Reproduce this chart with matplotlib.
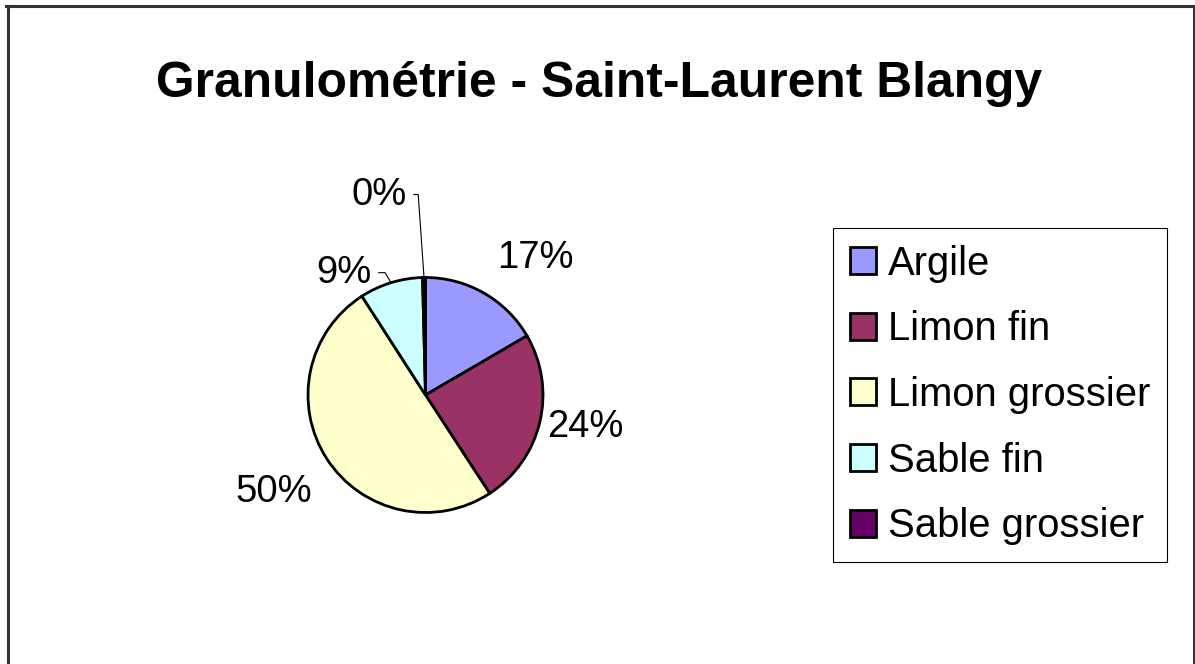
import numpy as np
import matplotlib
matplotlib.use("Agg")
import matplotlib.pyplot as plt
from matplotlib.patches import Patch
from matplotlib.lines import Line2D

# Particle-size fractions (percent)
categories = ["Argile", "Limon fin", "Limon grossier", "Sable fin", "Sable grossier"]
values = [16.6, 24.2, 50.1, 8.7, 0.4]
colors = ["#9999FF", "#993366", "#FFFFCC", "#CCFFFF", "#660066"]
title = "Granulométrie - Saint-Laurent Blangy"

W, H = 1195, 664
DPI = 100
plt.rcParams["font.family"] = ["Liberation Sans", "DejaVu Sans"]

fig = plt.figure(figsize=(W / DPI, H / DPI), dpi=DPI)
fig.patch.set_facecolor("white")

def fx(px):
    return px / W

def fy(py):
    return 1 - py / H

# Pie axes: square box around the pie
cx, cy, R = 425.5, 395.0, 117.5
ax = fig.add_axes([fx(cx - R), fy(cy + R), 2 * R / W, 2 * R / H])
wedges, _ = ax.pie(values, colors=colors, startangle=90, counterclock=False,
                   radius=1.0,
                   wedgeprops=dict(edgecolor="black", linewidth=2.0))
ax.set_xlim(-1, 1)
ax.set_ylim(-1, 1)
ax.set_aspect("equal")
ax.axis("off")

# Percentage labels, offset (pixels) from the rim point at each wedge's middle
offsets = [(51, 35), (45, -5), (-53, -33), (-47, 10), (-45, 83)]
leaders = [None, None, None, 120, 94]
for w, v, off, lead in zip(wedges, values, offsets, leaders):
    mid = np.deg2rad((w.theta1 + w.theta2) / 2)
    xy = (np.cos(mid), np.sin(mid))
    kw = {}
    if lead is not None:
        kw["arrowprops"] = dict(arrowstyle="-", color="black", lw=0.8,
                                shrinkA=3, shrinkB=0,
                                connectionstyle=f"angle,angleA=0,angleB={lead},rad=0")
    ax.annotate(f"{v:.0f}%", xy=xy, xytext=off, textcoords="offset pixels",
                ha="center", va="center", fontsize=27.5, color="black",
                annotation_clip=False, **kw)

# Title
fig.text(fx(599), fy(97), title, ha="center", va="baseline",
         fontsize=35.8, fontweight="bold", color="black")

# Legend
handles = [Patch(facecolor=c, edgecolor="black", linewidth=2.0) for c in colors]
leg = fig.legend(handles, categories, loc="upper left",
                 bbox_to_anchor=(fx(833), fy(228)), bbox_transform=fig.transFigure,
                 fontsize=28.8, frameon=True, fancybox=False, shadow=False,
                 handlelength=0.66, handleheight=0.66, handletextpad=0.3,
                 labelspacing=0.69, borderpad=0.42, borderaxespad=0.0)
frame = leg.get_frame()
frame.set_edgecolor("black")
frame.set_linewidth(0.8)
frame.set_facecolor("white")
frame.set_alpha(1.0)

# Chart-area border (left, top, right)
border_kw = dict(color="#333333", linewidth=2.2, transform=fig.transFigure)
fig.add_artist(Line2D([fx(7.5), fx(7.5)], [0, fy(5.5)], **border_kw))
fig.add_artist(Line2D([fx(6.5), fx(1193.5)], [fy(5.5), fy(5.5)], **border_kw))
fig.add_artist(Line2D([fx(1193.5), fx(1193.5)], [0, fy(5.5)], **border_kw))

fig.savefig("out.png", dpi=DPI, facecolor="white")
